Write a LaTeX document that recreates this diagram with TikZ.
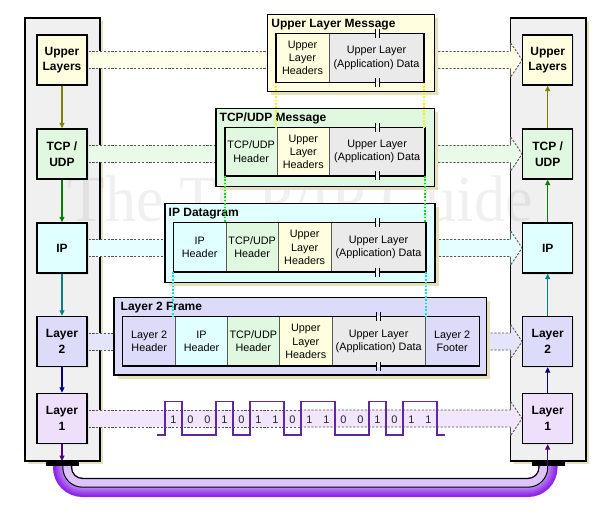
\documentclass[tikz,border=0pt]{standalone}
\usepackage{fontspec}
\setmainfont{Liberation Sans}
\newfontfamily\wmfont{Liberation Serif}
\usetikzlibrary{arrows.meta,shadows,calc}
\pgfdeclarelayer{bg}
\pgfsetlayers{bg,main}
\definecolor{panelc}{RGB}{240,240,240}
\definecolor{shad}{RGB}{228,224,186}
\definecolor{cUL}{RGB}{255,255,224}
\definecolor{cTC}{RGB}{224,248,224}
\definecolor{cIP}{RGB}{224,255,255}
\definecolor{cL2}{RGB}{220,220,250}
\definecolor{cL1}{RGB}{238,224,250}
\definecolor{bUL}{RGB}{255,255,232}
\definecolor{bTC}{RGB}{232,250,232}
\definecolor{bIP}{RGB}{228,255,255}
\definecolor{bL2}{RGB}{228,228,250}
\definecolor{bL1}{RGB}{242,230,252}
\definecolor{cData}{RGB}{234,234,234}
\definecolor{aO}{RGB}{128,128,0}
\definecolor{aG}{RGB}{0,128,0}
\definecolor{aT}{RGB}{0,128,128}
\definecolor{aN}{RGB}{0,0,128}
\definecolor{aP}{RGB}{75,0,130}
\definecolor{wave}{RGB}{96,40,160}
\definecolor{gY}{RGB}{245,245,0}
\definecolor{gG}{RGB}{0,230,0}
\definecolor{gC}{RGB}{0,225,225}
\definecolor{cabV}{RGB}{140,40,230}
\definecolor{cabL}{RGB}{200,150,248}
\definecolor{cabW}{RGB}{222,195,252}
\definecolor{bandln}{RGB}{85,85,85}
% band from left box #1 to message #2, then to right box #3, colour #4
\newcommand\band[4]{%
 \fill[#4] ($(#1.east)+(0,-8.5)$) rectangle ($(#2.west |- #1.east)+(0,8.5)$);
 \draw[bandline] ($(#1.east)+(1,-8.5)$) -- ($(#2.west |- #1.east)+(0,-8.5)$)
   ($(#1.east)+(1,8.5)$) -- ($(#2.west |- #1.east)+(0,8.5)$)
   ($(#1.east)+(1,-8.5)$) -- ($(#1.east)+(1,8.5)$);
 \fill[#4] ($(#2.east |- #3.west)+(0,-8.5)$) -- ($(PR.west |- #3.west)+(0,-8.5)$) -- ($(PR.west |- #3.west)+(0,-17)$) -- (#3.west) -- ($(PR.west |- #3.west)+(0,17)$) -- ($(PR.west |- #3.west)+(0,8.5)$) -- ($(#2.east |- #3.west)+(0,8.5)$) -- cycle;
 \draw[bandline] ($(#2.east |- #3.west)+(0,-8.5)$) -- ($(PR.west |- #3.west)+(0,-8.5)$)
   ($(#2.east |- #3.west)+(0,8.5)$) -- ($(PR.west |- #3.west)+(0,8.5)$)
   ($(PR.west |- #3.west)+(0,-17)$) -- (#3.west) -- ($(PR.west |- #3.west)+(0,17)$);
}
\newcommand\brkmark[2]{%
 \fill[white] (#1-2.2,#2-1) rectangle (#1+2.2,#2+1);
 \draw[line width=1.1pt] (#1-2.2,#2-4.5) -- (#1-2.2,#2+4.5) (#1+2.2,#2-4.5) -- (#1+2.2,#2+4.5);
}
\begin{document}
\begin{tikzpicture}[x=1pt,y=-1pt,
 panel/.style={draw=black, line width=1.2pt, fill=panelc, inner sep=0pt, outer sep=0pt, anchor=north west, general shadow={fill=shad, shadow xshift=3pt, shadow yshift=-3pt}},
 layerbox/.style={draw=black, line width=1.3pt, minimum width=50pt, minimum height=50pt, inner sep=0pt, align=center, font=\fontsize{12}{15.5}\selectfont\bfseries, general shadow={fill=black!12, shadow xshift=1.5pt, shadow yshift=-1.5pt}},
 msg/.style={draw=black, line width=1.5pt, inner sep=0pt, outer sep=0pt, anchor=north west, general shadow={fill=shad, shadow xshift=3.5pt, shadow yshift=-3.5pt}},
 ttl/.style={anchor=west, inner sep=0pt, font=\fontsize{12}{14}\selectfont\bfseries},
 cell/.style={draw=black!65, line width=0.6pt, inner sep=0pt, outer sep=0pt, anchor=north west, align=center, font=\fontsize{10.8}{13.3}\selectfont},
 rowline/.style={draw=black, line width=1.3pt},
 bandline/.style={draw=bandln, line width=0.9pt, dash pattern=on 2.2pt off 1.6pt},
 arr/.style={line width=1.2pt, -{Triangle[length=5.5pt,width=5pt]}},
 guide/.style={line width=1.7pt, dash pattern=on 1.7pt off 1.7pt},
 digit/.style={inner sep=0pt, font=\fontsize{11}{11}\selectfont, text=black!85}
]
\useasboundingbox (0,0) rectangle (611,516);

% panels
\begin{pgfonlayer}{bg}
\node[panel, minimum width=75pt, minimum height=443pt] (PL) at (25,18) {};
\node[panel, minimum width=75.3pt, minimum height=443pt] (PR) at (510.7,18) {};
\end{pgfonlayer}

% layer boxes
\node[layerbox, fill=cUL] (LU) at (62,60) {Upper\\Layers};
\node[layerbox, fill=cTC] (LT) at (62,154) {TCP /\\UDP};
\node[layerbox, fill=cIP] (LI) at (62,248) {IP};
\node[layerbox, fill=cL2] (LL2) at (62,341.5) {Layer\\2};
\node[layerbox, fill=cL1] (LL1) at (62,418.5) {Layer\\1};
\node[layerbox, fill=cUL] (RU) at (547.7,60) {Upper\\Layers};
\node[layerbox, fill=cTC] (RT) at (547.7,154) {TCP /\\UDP};
\node[layerbox, fill=cIP] (RI) at (547.7,248) {IP};
\node[layerbox, fill=cL2] (RL2) at (547.7,341.5) {Layer\\2};
\node[layerbox, fill=cL1] (RL1) at (547.7,418.5) {Layer\\1};

% Upper Layer Message
\node[msg, fill=cUL, minimum width=166.6pt, minimum height=77.4pt] (UM) at (267.7,14.3) {};
\node[ttl] (UMt) at ($(UM.north west)+(3.5,10)$) {Upper Layer Message};
\node[cell, fill=cUL, minimum width=53pt, minimum height=49.4pt] (U1) at (276,33.3) {Upper\\Layer\\Headers};
\node[cell, fill=cData, minimum width=95pt, minimum height=49.4pt] (U2) at (U1.north east) {Upper Layer\\(Application) Data};
\draw[rowline] (U1.north west) rectangle (U2.south east);
\brkmark{377.7}{33.3}
\brkmark{377.7}{82.7}

% TCP/UDP Message
\node[msg, fill=cTC, minimum width=218.3pt, minimum height=78.4pt] (TM) at (216,108.3) {};
\node[ttl] (TMt) at ($(TM.north west)+(3.5,10)$) {TCP/UDP Message};
\node[cell, fill=cTC, minimum width=52.3pt, minimum height=48.7pt] (T1) at (225,127.3) {TCP/UDP\\Header};
\node[cell, fill=cUL, minimum width=52pt, minimum height=48.7pt] (T2) at (T1.north east) {Upper\\Layer\\Headers};
\node[cell, fill=cData, minimum width=95.7pt, minimum height=48.7pt] (T3) at (T2.north east) {Upper Layer\\(Application) Data};
\draw[rowline] (T1.north west) rectangle (T3.south east);
\brkmark{377.7}{127.3}
\brkmark{377.7}{176}

% IP Datagram
\node[msg, fill=cIP, minimum width=270pt, minimum height=79pt] (IM) at (165,203.3) {};
\node[ttl] (IMt) at ($(IM.north west)+(3.5,10.5)$) {IP Datagram};
\node[cell, fill=cIP, minimum width=52.7pt, minimum height=49.3pt] (I1) at (173.3,222.7) {IP\\Header};
\node[cell, fill=cTC, minimum width=52.3pt, minimum height=49.3pt] (I2) at (I1.north east) {TCP/UDP\\Header};
\node[cell, fill=cUL, minimum width=52.7pt, minimum height=49.3pt] (I3) at (I2.north east) {Upper\\Layer\\Headers};
\node[cell, fill=cData, minimum width=95pt, minimum height=49.3pt] (I4) at (I3.north east) {Upper Layer\\(Application) Data};
\draw[rowline] (I1.north west) rectangle (I4.south east);
\brkmark{377.7}{222.7}
\brkmark{377.7}{272}

% Layer 2 Frame
\node[msg, fill=cL2, minimum width=372.7pt, minimum height=77.7pt] (LM) at (114,297.5) {};
\node[ttl] (LMt) at ($(LM.north west)+(6.5,10)$) {Layer 2 Frame};
\node[cell, fill=cL2, minimum width=53pt, minimum height=49.3pt] (F1) at (122.7,316.7) {Layer 2\\Header};
\node[cell, fill=cIP, minimum width=51.6pt, minimum height=49.3pt] (F2) at (F1.north east) {IP\\Header};
\node[cell, fill=cTC, minimum width=52pt, minimum height=49.3pt] (F3) at (F2.north east) {TCP/UDP\\Header};
\node[cell, fill=cUL, minimum width=53pt, minimum height=49.3pt] (F4) at (F3.north east) {Upper\\Layer\\Headers};
\node[cell, fill=cData, minimum width=92.7pt, minimum height=49.3pt] (F5) at (F4.north east) {Upper Layer\\(Application) Data};
\node[cell, fill=cL2, minimum width=54.3pt, minimum height=49.3pt] (F6) at (F5.north east) {Layer 2\\Footer};
\draw[rowline] (F1.north west) rectangle (F6.south east);
\brkmark{378.5}{316.7}
\brkmark{378.5}{366}

\coordinate (WM) at (300,418.5);

% bands
\begin{pgfonlayer}{bg}
\band{LU}{UM}{RU}{bUL}
\band{LT}{TM}{RT}{bTC}
\band{LI}{IM}{RI}{bIP}
\band{LL2}{LM}{RL2}{bL2}
\band{LL1}{WM}{RL1}{bL1}
\node[opacity=0.06, anchor=base, inner sep=0pt, xscale=0.94, font=\wmfont\fontsize{66}{66}\selectfont] (wmk) at (300,222) {The TCP/IP Guide};
\end{pgfonlayer}

% guides
\draw[guide, gY] (U1.south west) -- (U1.south west |- T2.north);
\draw[guide, gY] (U2.south east) -- (U2.south east |- T3.north);
\draw[guide, gG] (T1.south west) -- (T1.south west |- I2.north);
\draw[guide, gG] (T3.south east) -- (T3.south east |- I4.north);
\draw[guide, gC] (I1.south west) -- (I1.south west |- F2.north);
\draw[guide, gC] (I4.south east) -- (I4.south east |- F5.north);

% waveform
\draw[wave, line width=1.3pt] (157,435) -- (165,435) -- (165,401.5) -- (182,401.5) -- (182,435) -- (216,435) -- (216,401.5) -- (233,401.5) -- (233,435) -- (250,435) -- (250,401.5) -- (284,401.5) -- (284,435) -- (301,435) -- (301,401.5) -- (335,401.5) -- (335,435) -- (369,435) -- (369,401.5) -- (386,401.5) -- (386,435) -- (403,435) -- (403,401.5) -- (437,401.5) -- (437,435) -- (445,435);
\foreach \b [count=\i from 0] in {1,0,0,1,0,1,1,0,1,1,0,0,1,0,1,1}
  \node[digit] (dg\i) at (173.5+17*\i,420) {\b};

% cable
\foreach \d/\w/\c in {0/19/cabV, 1.25/16.5/cabV!80!cabL, 2.25/14.5/cabV!60!cabL, 3.25/12.5/cabV!40!cabL, 4.25/10.5/cabV!15!cabL, 4.75/8.5/cabW, 0.3/1/black, 9/1.1/black}{
  \pgfmathsetmacro\rr{20-\d}
  \draw[line width=\w pt, draw=\c, rounded corners=\rr pt] (62.5+\d,463) -- (62.5+\d,487.5-\d) -- (548-\d,487.5-\d) -- (548-\d,463);
}
\node[fill=black, minimum width=33pt, minimum height=5pt, inner sep=0pt, outer sep=0pt] (BL) at (62.5,463.5) {};
\node[fill=black, minimum width=33.3pt, minimum height=5pt, inner sep=0pt, outer sep=0pt] (BR) at (548.3,463.5) {};

% arrows
\draw[arr, aO] (LU) -- (LT);
\draw[arr, aG] (LT) -- (LI);
\draw[arr, aT] (LI) -- (LL2);
\draw[arr, aN] (LL2) -- (LL1);
\draw[arr, aP] (LL1) -- (LL1 |- BL.north);
\draw[arr, aO] (RT) -- (RU);
\draw[arr, aG] (RI) -- (RT);
\draw[arr, aT] (RL2) -- (RI);
\draw[arr, aN] (RL1) -- (RL2);
\draw[arr, aP] (RL1 |- BR.south) -- (RL1);
\end{tikzpicture}
\end{document}
